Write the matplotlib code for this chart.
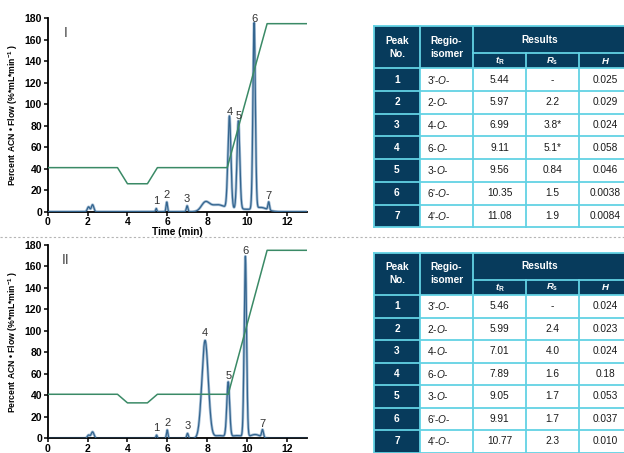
import numpy as np
import matplotlib
matplotlib.use('Agg')
import matplotlib.pyplot as plt
from matplotlib.patches import Rectangle

plt.rcParams['font.family'] = ['Liberation Sans', 'DejaVu Sans']
plt.rcParams['mathtext.fontset'] = 'custom'
plt.rcParams['mathtext.rm'] = 'Liberation Sans'
plt.rcParams['mathtext.it'] = 'Liberation Sans:italic'
plt.rcParams['mathtext.bf'] = 'Liberation Sans:bold'
plt.rcParams['mathtext.bfit'] = 'Liberation Sans:italic:bold'

# Tabellen-Daten
peak_no = [1, 2, 3, 4, 5, 6, 7]
regio = ["3'-O-", "2-O-", "4-O-", "6-O-", "3-O-", "6'-O-", "4'-O-"]
tR_I = [5.44, 5.97, 6.99, 9.11, 9.56, 10.35, 11.08]
Rs_I = ["-", "2.2", "3.8*", "5.1*", "0.84", "1.5", "1.9"]
H_I = ["0.025", "0.029", "0.024", "0.058", "0.046", "0.0038", "0.0084"]
tR_II = [5.46, 5.99, 7.01, 7.89, 9.05, 9.91, 10.77]
Rs_II = ["-", "2.4", "4.0", "1.6", "1.7", "1.7", "2.3"]
H_II = ["0.024", "0.023", "0.024", "0.18", "0.053", "0.037", "0.010"]

# Peakhoehen / -breiten
peak_h_I = [3, 9, 5.5, 86, 82, 173, 7.5]
peak_w_I = [0.03, 0.035, 0.04, 0.075, 0.07, 0.06, 0.04]
extra_t_I = [2.05, 2.25, 7.9, 8.5, 9.6, 10.7]
extra_h_I = [4.5, 6.5, 8, 6, 2.5, 3.5]
extra_w_I = [0.06, 0.06, 0.2, 0.35, 0.6, 0.3]

peak_h_II = [3, 7.8, 4.6, 91, 51, 168, 7]
peak_w_II = [0.03, 0.035, 0.04, 0.16, 0.07, 0.06, 0.045]
extra_t_II = [2.05, 2.25, 8.6, 9.5, 10.4]
extra_h_II = [3, 6, 2.5, 2.5, 3.5]
extra_w_II = [0.06, 0.07, 0.3, 0.3, 0.25]

# Gradient (Zeit, ACN*Flow)
grad_t = [0, 3.5, 4, 5, 5.5, 9, 11, 13]
grad_I = [41, 41, 26, 26, 41, 41, 175, 175]
grad_t_II = [0, 3.5, 4, 5, 5.5, 9.05, 11, 13]
grad_II = [41, 41, 33, 33, 41, 41, 175, 175]

navy = '#073b5c'
cyan = '#62d2e4'
trace_col = '#34658f'
grad_col = '#3a8a66'


def trace(t, centers, heights, widths):
    y = np.zeros_like(t)
    for c, h, w in zip(centers, heights, widths):
        y += h * np.exp(-0.5 * ((t - c) / w) ** 2)
    return y


fig = plt.figure(figsize=(6.24, 4.53), dpi=100)

# Overlay fuer Tabellen und Trennlinie (Pixelkoordinaten)
ov = fig.add_axes([0, 0, 1, 1])
ov.set_xlim(0, 624)
ov.set_ylim(453, 0)
ov.axis('off')
ov.plot([0, 624], [237.3, 237.3], color='#b5b5b5', lw=0.8, ls=(0, (2, 2)))


def draw_table(top, h1, h2, rowh, tR, Rs, H):
    cols = [374, 420, 473, 526, 579, 632]
    lw = 1.3
    fs = 7.3
    txt = '#1a1a1a'
    # Kopf
    ov.add_patch(Rectangle((cols[0], top), cols[-1] - cols[0], h1 + h2,
                           facecolor=navy, edgecolor='none'))
    hy = top + (h1 + h2) / 2
    ov.text((cols[0] + cols[1]) / 2, hy, "Peak\nNo.", color='white', weight='bold',
            fontsize=fs, ha='center', va='center', linespacing=1.35)
    ov.text((cols[1] + cols[2]) / 2, hy, "Regio-\nisomer", color='white', weight='bold',
            fontsize=fs, ha='center', va='center', linespacing=1.35)
    ov.text((cols[2] + 606) / 2, top + h1 / 2, "Results", color='white', weight='bold',
            fontsize=fs, ha='center', va='center')
    subs = [r"$\mathbfit{t}_{\mathbf{R}}$", r"$\mathbfit{R}_{\mathbf{s}}$", r"$\mathbfit{H}$"]
    for j, s in enumerate(subs):
        cx = (cols[2 + j] + cols[3 + j]) / 2
        if j == 2:
            cx = 605.5
        ov.text(cx, top + h1 + h2 / 2, s, color='white', fontsize=fs - 0.5,
                ha='center', va='center')
    # Zeilen
    y0 = top + h1 + h2
    for i in range(len(peak_no)):
        y = y0 + i * rowh
        ov.add_patch(Rectangle((cols[0], y), cols[1] - cols[0], rowh,
                               facecolor=navy, edgecolor='none'))
        ov.add_patch(Rectangle((cols[1], y), cols[-1] - cols[1], rowh,
                               facecolor='white', edgecolor='none'))
        cy = y + rowh / 2
        ov.text((cols[0] + cols[1]) / 2, cy, str(peak_no[i]), color='white',
                weight='bold', fontsize=fs, ha='center', va='center')
        r = regio[i].replace('O', r'$\mathit{O}$')
        ov.text(cols[1] + 7, cy, r, color=txt, fontsize=fs, ha='left', va='center')
        ov.text((cols[2] + cols[3]) / 2, cy, f"{tR[i]:.2f}", color=txt,
                fontsize=fs, ha='center', va='center')
        ov.text((cols[3] + cols[4]) / 2, cy, Rs[i], color=txt,
                fontsize=fs, ha='center', va='center')
        ov.text(605.5, cy, H[i], color=txt, fontsize=fs, ha='center', va='center')
    bottom = y0 + len(peak_no) * rowh
    # Gitterlinien
    for k, x in enumerate(cols):
        ytop = top + h1 if k in (3, 4) else top
        ov.plot([x, x], [ytop, bottom], color=cyan, lw=lw)
    ov.plot([cols[2], cols[-1]], [top + h1, top + h1], color=cyan, lw=lw)
    for i in range(len(peak_no) + 1):
        yy = y0 + i * rowh
        ov.plot([cols[0], cols[-1]], [yy, yy], color=cyan, lw=lw)
    ov.plot([cols[0], cols[-1]], [top, top], color=cyan, lw=lw)


draw_table(26, 27.3, 15, 22.7, tR_I, Rs_I, H_I)
draw_table(252.7, 27.3, 15, 22.5, tR_II, Rs_II, H_II)

t = np.linspace(0, 13, 4000)
panels = [
    ([0.0764, 0.5327, 0.4156, 0.4269], tR_I, peak_h_I, peak_w_I,
     extra_t_I, extra_h_I, extra_w_I, grad_t, grad_I, "I"),
    ([0.0764, 0.0324, 0.4156, 0.4269], tR_II, peak_h_II, peak_w_II,
     extra_t_II, extra_h_II, extra_w_II, grad_t_II, grad_II, "II"),
]

for pos, tr, ph, pw, et, eh, ew, gt, gy, tag in panels:
    ax = fig.add_axes(pos)
    ax.patch.set_alpha(0)
    y = trace(t, list(tr) + et, ph + eh, pw + ew)
    ax.plot(t, y, color='#a8c0d6', lw=2.0, zorder=2)
    ax.plot(t, y, color=trace_col, lw=0.9, zorder=3)
    ax.plot(gt, gy, color=grad_col, lw=1.1, zorder=4)
    for n, (c, h) in enumerate(zip(tr, ph)):
        ax.text(c, h + 2, str(n + 1), fontsize=8, color='#333333',
                ha='center', va='bottom', clip_on=False, zorder=5)
    ax.text(0.9, 166, tag, fontsize=10, color='#444444', ha='center', va='center')
    ax.set_xlim(0, 13)
    ax.set_ylim(0, 180)
    ax.set_xticks(range(0, 13, 2))
    ax.set_yticks(range(0, 181, 20))
    ax.spines['top'].set_visible(False)
    ax.spines['right'].set_visible(False)
    ax.spines['left'].set_linewidth(1.3)
    ax.spines['bottom'].set_linewidth(1.3)
    ax.tick_params(direction='out', length=3, width=1.1, labelsize=7.5, pad=1)
    for lab in ax.get_xticklabels() + ax.get_yticklabels():
        lab.set_fontweight('bold')
    ax.set_ylabel(r"Percent ACN • Flow (%*mL*min$^{\mathbf{-1}}$ )",
                  fontsize=6.2, weight='bold')
    ax.yaxis.set_label_coords(-0.107, 0.5)
    if tag == "I":
        ax.set_xlabel("Time (min)", fontsize=7.2, weight='bold', labelpad=0)

fig.savefig('out.png', dpi=100)
